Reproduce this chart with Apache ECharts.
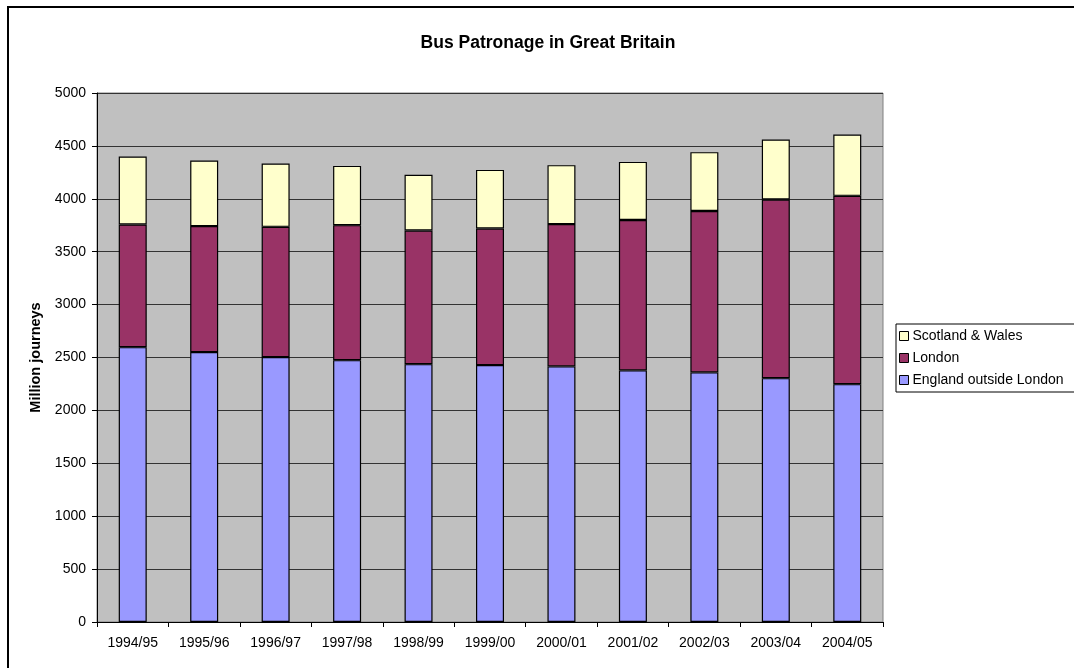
<!DOCTYPE html>
<html>
<head>
<meta charset="utf-8">
<script src="https://cdn.jsdelivr.net/npm/echarts@6/dist/echarts.min.js"></script>
<style>html,body{margin:0;padding:0;background:#fff;}#c{width:1074px;height:668px;}</style>
</head>
<body>
<div id="c"></div>
<script>
const categories = ['1994/95','1995/96','1996/97','1997/98','1998/99','1999/00','2000/01','2001/02','2002/03','2003/04','2004/05'];
const englandOutsideLondon = [2598, 2551, 2504, 2475, 2437, 2428, 2416, 2378, 2359, 2305, 2248];
const london = [1159, 1191, 1231, 1276, 1263, 1291, 1345, 1422, 1525, 1688, 1780];
const scotlandWales = [642, 619, 598, 560, 528, 554, 557, 549, 557, 567, 579];
const yTicks = {min: 0, max: 5000, interval: 500};

const chart = echarts.init(document.getElementById('c'), null, {renderer: 'canvas'});
const font = 'Liberation Sans, Arial, sans-serif';
const barStyle = (color) => ({color: color, borderColor: '#000', borderWidth: 1.2});
chart.setOption({
  backgroundColor: '#fff',
  animation: false,
  graphic: [{
    type: 'rect', z: 100, silent: true,
    shape: {x: 8, y: 7, width: 1100, height: 700},
    style: {fill: 'none', stroke: '#000', lineWidth: 2}
  }],
  title: {
    text: 'Bus Patronage in Great Britain',
    left: 543, top: 29, textAlign: 'center',
    textStyle: {fontFamily: font, fontSize: 17.5, fontWeight: 'bold', color: '#000'}
  },
  legend: {
    orient: 'vertical',
    left: 896, top: 324,
    data: ['Scotland & Wales', 'London', 'England outside London'],
    icon: 'rect',
    itemWidth: 9, itemHeight: 9, itemGap: 8,
    padding: [5, 60, 5, 3],
    borderColor: '#000', borderWidth: 1, backgroundColor: '#fff',
    textStyle: {fontFamily: font, fontSize: 14, color: '#000', padding: [0, 0, 0, -1]},
    itemStyle: {borderColor: '#000', borderWidth: 1}
  },
  grid: {
    left: 97, top: 93, width: 786, height: 529,
    show: true, backgroundColor: '#C0C0C0', borderColor: '#808080', borderWidth: 1
  },
  xAxis: {
    type: 'category', data: categories, boundaryGap: true,
    axisLine: {lineStyle: {color: '#000', width: 1}},
    axisTick: {show: true, length: 5, interval: 0, lineStyle: {color: '#000'}},
    axisLabel: {fontFamily: font, fontSize: 14, color: '#000', margin: 14, interval: 0}
  },
  yAxis: {
    type: 'value', min: yTicks.min, max: yTicks.max, interval: yTicks.interval,
    name: 'Million journeys', nameLocation: 'middle', nameGap: 51,
    nameTextStyle: {fontFamily: font, fontSize: 14.5, fontWeight: 'bold', color: '#000'},
    axisLine: {show: true, lineStyle: {color: '#000', width: 1}},
    axisTick: {show: true, length: 5, inside: false, lineStyle: {color: '#000'}},
    axisLabel: {fontFamily: font, fontSize: 14, color: '#000', margin: 11, formatter: (v) => String(v)},
    splitLine: {show: true, lineStyle: {color: '#333', width: 1}}
  },
  series: [
    {name: 'England outside London', type: 'bar', stack: 'all', data: englandOutsideLondon, barWidth: 28, itemStyle: barStyle('#9999FF')},
    {name: 'London', type: 'bar', stack: 'all', data: london, barWidth: 28, itemStyle: barStyle('#993366')},
    {name: 'Scotland & Wales', type: 'bar', stack: 'all', data: scotlandWales, barWidth: 28, itemStyle: barStyle('#FFFFCC')}
  ]
});
</script>
</body>
</html>
